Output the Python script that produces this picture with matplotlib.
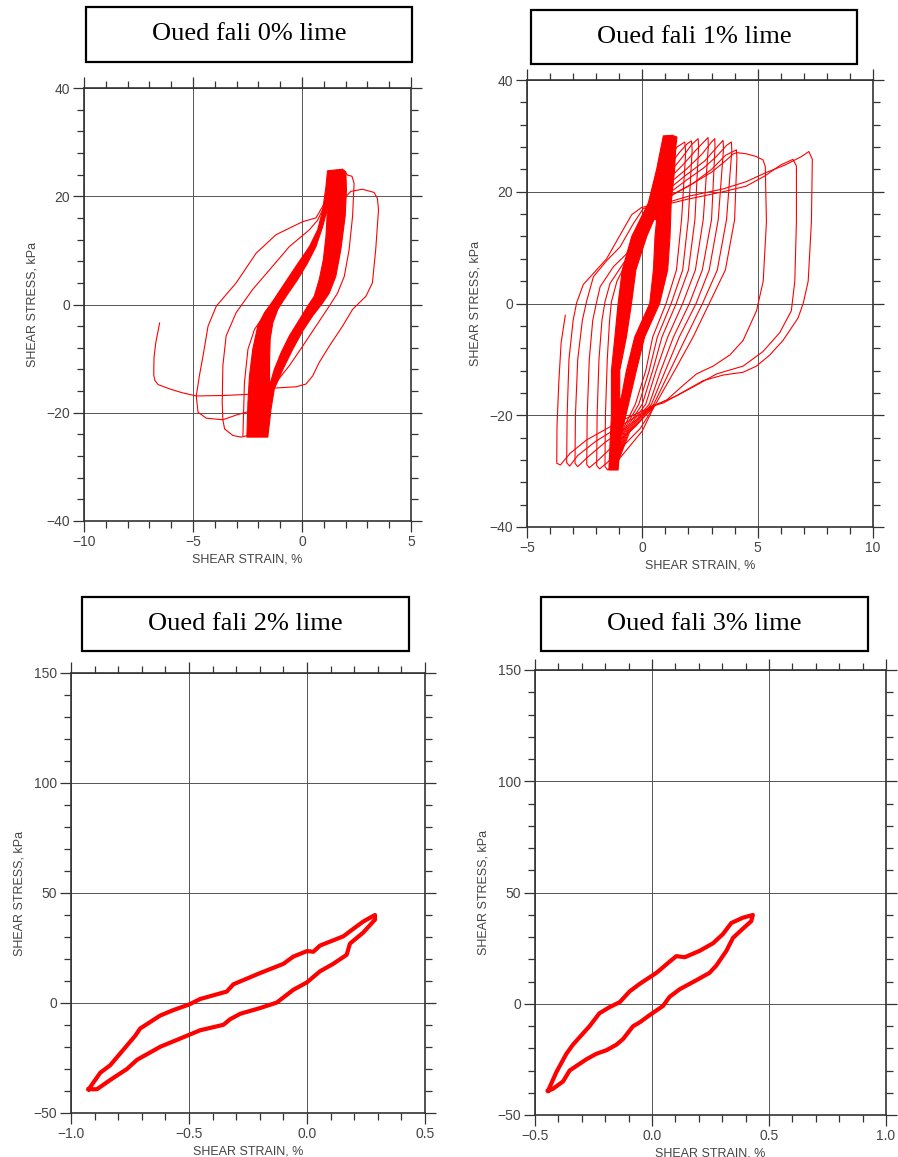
import numpy as np
import matplotlib
matplotlib.use('Agg')
import matplotlib.pyplot as plt
from matplotlib.path import Path
from matplotlib.patches import PathPatch, Rectangle
from matplotlib.ticker import MultipleLocator, FuncFormatter

plt.rcParams['font.family'] = ['Liberation Sans', 'DejaVu Sans']

RED = '#ff0000'
titles = ['Oued fali 0% lime', 'Oued fali 1% lime', 'Oued fali 2% lime', 'Oued fali 3% lime']

# ---------------- panel 1 (0% lime) ----------------
p1_band_out_x = [-2.53, -2.48, -2.41, -2.26, -2.03, -1.72, -1.34, -0.88, -0.27, 0.34, 0.72, 0.95, 1.10, 1.17,
                 1.86, 2.01, 2.04, 1.98, 1.78, 1.55, 1.25, 0.95, 0.49, 0.03, -0.43, -0.88, -1.27, -1.42, -1.49, -1.57]
p1_band_out_y = [-24.5, -18.1, -13.2, -8.3, -4.0, -1.5, 0.6, 3.4, 7.1, 10.7, 13.8, 17.5, 21.8, 24.7,
                 25.0, 24.5, 21.2, 16.3, 10.1, 5.2, 2.1, 0.3, -2.1, -4.9, -8.3, -12.0, -15.6, -19.3, -21.8, -24.5]
p1_band_in_x = [1.17, 1.10, 0.98, 0.79, 0.56, 0.26, -0.12, -0.58, -0.96, -1.27, -1.49,
                -1.49, -1.46, -1.34, -1.11, -0.73, -0.20, 0.26, 0.64, 0.95]
p1_band_in_y = [17.8, 12.6, 8.3, 4.6, 1.5, -0.3, -2.8, -5.8, -8.9, -12.0, -15.0,
                -10.7, -6.4, -3.4, -0.9, 1.5, 4.6, 7.7, 10.7, 14.4]

p1_b_x = [-2.3, -3.0, -3.63, -4.39, -4.77, -4.85, -4.70, -4.54, -4.31, -3.93, -3.02, -2.10, -1.19, 0.03, 0.64, 1.0]
p1_b_y = [-19.6, -20.4, -21.3, -21.0, -19.9, -16.9, -13.0, -9.5, -4.0, -0.3, 4.0, 9.5, 12.9, 15.3, 16.0, 18.5]
p1_c_x = [-2.48, -2.79, -3.17, -3.55, -3.63, -3.66, -3.63, -3.48, -3.02, -2.26, -1.49, -0.58, 0.34, 0.72, 1.0]
p1_c_y = [-24.2, -24.5, -24.2, -23.0, -21.3, -18.1, -11.3, -5.8, -1.5, 2.8, 6.4, 10.7, 13.8, 15.6, 18.0]
p1_tail_x = [-1.9, -2.5, -3.5, -4.85, -5.5, -6.07, -6.6, -6.75, -6.8, -6.79, -6.71, -6.53]
p1_tail_y = [-16.4, -16.6, -16.8, -16.9, -16.3, -15.6, -14.8, -14.0, -13.0, -9.9, -7.1, -3.4]
p1_d_x = [1.86, 2.24, 2.77, 3.31, 3.46, 3.51, 3.38, 3.23, 2.93, 2.62, 2.32, 1.86, 1.25, 0.79, 0.49, 0.18, -0.27,
          -1.49, -1.7]
p1_d_y = [19.3, 20.9, 21.3, 20.7, 19.6, 17.5, 10.1, 4.0, 1.5, 0.3, -0.9, -4.0, -7.7, -10.7, -13.2, -14.7, -15.2,
          -15.5, -16.0]
p1_e_x = [1.95, 2.09, 2.29, 2.39, 2.32, 2.16, 1.94, 1.63, 1.25, 0.64, 0.03, -0.58, -1.19, -1.49]
p1_e_y = [24.6, 23.9, 23.7, 22.4, 16.3, 10.1, 5.2, 2.1, -0.3, -4.0, -7.7, -11.3, -14.4, -15.6]
p1_f_x = [-2.71, -2.64, -2.48, -2.18, -1.65, -1.0]
p1_f_y = [-24.2, -14.4, -8.3, -4.6, -1.5, 2.5]

# ---------------- panel 2 (1% lime) ----------------
p2_band_out_x = [-1.45, -1.40, -1.34, -1.34, -1.19, -1.05, -0.87, -0.46, 0.26, 0.62, 0.91, 1.30, 1.50,
                 1.45, 1.40, 1.25, 1.20, 1.10, 0.75, 0.10, -0.26, -0.60, -0.95, -1.05]
p2_band_out_y = [-29.8, -25.0, -20.0, -12.0, -6.0, 0.0, 6.0, 12.0, 18.0, 24.0, 30.0, 30.1, 29.8,
                 28.0, 24.0, 18.0, 12.0, 6.0, 0.0, -6.0, -12.0, -18.0, -24.0, -29.8]
p2_band_in_x = [0.62, 0.55, 0.48, 0.32, -0.33, -0.69, -0.92, -0.98, -0.98, -0.69, -0.47, -0.28, 0.19, 0.50]
p2_band_in_y = [15.0, 12.0, 6.0, 0.0, -6.0, -12.0, -17.0, -17.0, -12.0, -6.0, 0.0, 6.0, 12.0, 15.0]

# small right excursions
p2_r1_x = [1.15, 1.50, 1.84, 1.88, 1.70, 1.48, 1.03, 0.45, 0.15, -0.30, -0.90, -1.15]
p2_r1_y = [25.5, 28.0, 28.9, 27.0, 15.0, 6.0, 0.0, -6.0, -12.0, -18.0, -23.0, -29.3]
p2_r2_x = [1.15, 1.60, 1.95, 2.13, 2.16, 1.99, 1.75, 1.25, 0.65, 0.30, -0.15, -0.85, -1.15]
p2_r2_y = [24.5, 27.0, 28.6, 29.1, 27.5, 15.0, 6.0, 0.0, -6.0, -12.0, -18.0, -23.0, -29.3]
p2_r3_x = [1.20, 1.70, 2.15, 2.42, 2.44, 2.28, 2.00, 1.47, 0.85, 0.45, 0.00, -0.80, -1.15]
p2_r3_y = [23.5, 26.0, 28.5, 29.5, 28.0, 15.0, 6.0, 0.0, -6.0, -12.0, -18.0, -23.0, -29.3]
p2_r4_x = [1.20, 1.80, 2.40, 2.85, 2.86, 2.64, 2.30, 1.75, 1.10, 0.60, 0.15, -0.75, -1.15]
p2_r4_y = [22.5, 25.0, 27.8, 29.7, 28.0, 15.0, 6.0, 0.0, -6.0, -12.0, -18.0, -23.0, -29.3]
p2_r5_x = [1.25, 1.90, 2.60, 3.00, 3.14, 3.15, 3.00, 2.60, 2.04, 1.35, 0.80, 0.30, -0.70, -1.15]
p2_r5_y = [21.8, 24.0, 26.8, 28.9, 29.5, 28.0, 15.0, 6.0, 0.0, -6.0, -12.0, -18.0, -23.0, -29.3]
p2_r6_x = [1.30, 1.90, 2.70, 3.30, 3.50, 3.52, 3.29, 2.90, 2.33, 1.60, 1.00, 0.40, -0.65, -1.15]
p2_r6_y = [21.0, 23.0, 25.5, 28.3, 29.2, 27.7, 15.0, 6.0, 0.0, -6.0, -12.0, -18.0, -23.0, -29.3]
p2_r7_x = [1.34, 1.92, 2.64, 3.21, 3.65, 3.86, 3.88, 3.65, 3.25, 2.61, 1.90, 1.20, 0.50, -0.60, -1.15]
p2_r7_y = [20.3, 22.1, 24.2, 26.3, 28.3, 28.9, 27.4, 15.0, 6.0, 0.0, -6.0, -12.0, -18.0, -23.0, -29.3]
p2_r8_x = [1.30, 2.20, 3.00, 3.60, 4.08, 4.10, 4.00, 3.60, 2.90, 2.20, 1.40, 0.55, -0.55, -1.15]
p2_r8_y = [19.5, 21.5, 24.0, 26.5, 27.5, 26.0, 15.0, 6.0, 0.0, -6.0, -12.0, -18.2, -23.0, -29.3]

# large right excursions
p2_r9_x = [0.90, 2.00, 3.00, 3.60, 3.95, 4.10, 4.50, 4.94, 5.23, 5.33, 5.38, 5.24, 4.95, 4.37, 3.80, 3.07,
           2.35, 1.78, 1.05, 0.55]
p2_r9_y = [18.5, 21.0, 23.5, 25.5, 26.8, 27.0, 26.8, 26.3, 25.7, 24.5, 14.6, 4.0, -1.3, -6.6, -9.2, -11.2,
           -12.6, -14.6, -17.3, -18.2]
p2_r10_x = [0.60, 2.00, 3.50, 4.50, 5.30, 6.00, 6.53, 6.68, 6.68, 6.61, 6.46, 5.96, 5.23, 4.37, 3.22, 2.35,
            1.50, 0.55]
p2_r10_y = [17.3, 18.7, 20.0, 21.0, 22.8, 24.8, 25.8, 24.6, 14.6, 4.0, -1.3, -5.2, -8.6, -11.2, -12.6, -14.6,
            -16.5, -18.2]
p2_r11_x = [0.60, 2.00, 3.50, 4.50, 5.40, 6.20, 6.90, 7.22, 7.37, 7.33, 7.19, 6.98, 6.75, 6.10, 5.53, 4.95,
            4.37, 3.51, 2.64, 1.78, 0.91, 0.33]
p2_r11_y = [17.5, 19.2, 20.5, 21.8, 23.5, 24.8, 26.3, 27.2, 25.8, 14.6, 4.0, 0.1, -2.6, -6.6, -9.2, -11.2,
            -12.3, -12.8, -13.8, -15.8, -17.8, -18.5]

# left excursions
p2_l1_x = [0.50, 0.00, -0.70, -1.20, -1.50, -1.62, -1.60, -1.52, -1.42, -1.34, -1.10, -0.60, 0.00, 0.45, 0.60]
p2_l1_y = [-18.5, -22.8, -26.3, -28.8, -29.8, -29.2, -20.0, -10.0, -3.0, 0.3, 4.0, 8.0, 11.5, 15.0, 17.0]
p2_l2_x = [0.55, -0.10, -0.90, -1.50, -1.85, -1.98, -1.96, -1.88, -1.75, -1.62, -1.40, -0.82, -0.24, 0.33, 0.55]
p2_l2_y = [-18.2, -22.4, -25.8, -28.4, -29.6, -29.0, -20.0, -10.0, -3.0, 0.3, 3.6, 7.2, 10.1, 14.9, 17.0]
p2_l3_x = [0.55, -0.30, -1.20, -1.90, -2.30, -2.41, -2.39, -2.30, -2.15, -1.98, -1.83, -1.25, -0.68, -0.24,
           0.19, 0.50]
p2_l3_y = [-18.2, -22.0, -25.2, -28.0, -29.4, -28.8, -20.0, -10.0, -3.0, 0.3, 3.0, 6.6, 8.9, 13.1, 16.1, 17.0]
p2_l4_x = [0.55, -0.50, -1.60, -2.40, -2.80, -2.92, -2.90, -2.80, -2.60, -2.41, -2.12, -1.54, -0.97, -0.39,
           0.04, 0.40]
p2_l4_y = [-18.2, -21.6, -24.8, -27.6, -29.2, -28.6, -20.0, -10.0, -3.0, 0.5, 4.8, 7.7, 10.1, 14.3, 17.0, 17.3]
p2_l5_x = [0.55, -0.70, -2.00, -2.80, -3.15, -3.28, -3.26, -3.18, -3.00, -2.85, -2.56, -2.12, -1.55, -0.82,
           -0.46, -0.03, 0.33]
p2_l5_y = [-18.2, -21.3, -24.6, -27.2, -29.1, -28.5, -20.0, -10.0, -3.0, 0.1, 3.4, 5.4, 8.0, 13.3, 15.9,
           17.2, 17.5]
p2_tail_x = [0.55, -0.98, -2.41, -3.13, -3.55, -3.71, -3.70, -3.62, -3.52, -3.34]
p2_tail_y = [-18.2, -21.1, -24.4, -26.8, -28.9, -28.6, -22.0, -14.0, -7.0, -2.1]

# ---------------- panel 3 (2% lime) ----------------
p3_up_x = [-0.925, -0.876, -0.834, -0.728, -0.707, -0.622, -0.566, -0.500, -0.453, -0.340, -0.312, -0.199,
           -0.100, -0.058, 0.000, 0.027, 0.055, 0.154, 0.196, 0.238, 0.288]
p3_up_y = [-39.2, -31.7, -28.3, -14.9, -11.6, -5.7, -3.2, -0.7, 1.8, 5.2, 8.5, 13.6, 17.8, 21.1, 23.6, 23.3,
           26.1, 30.3, 33.7, 37.0, 40.0]
p3_dn_x = [0.288, 0.238, 0.182, 0.168, 0.111, 0.055, 0.000, -0.058, -0.128, -0.199, -0.283, -0.326, -0.354,
           -0.453, -0.509, -0.622, -0.650, -0.720, -0.763, -0.834, -0.890, -0.925]
p3_dn_y = [37.9, 32.0, 27.0, 21.9, 17.8, 14.4, 9.4, 6.0, 0.2, -2.3, -4.9, -7.4, -9.9, -12.4, -14.9, -19.9,
           -21.6, -25.8, -30.0, -35.0, -39.2, -39.2]

# ---------------- panel 4 (3% lime) ----------------
p4_up_x = [-0.444, -0.409, -0.366, -0.338, -0.267, -0.225, -0.181, -0.138, -0.095, -0.053, 0.019, 0.075,
           0.104, 0.140, 0.204, 0.261, 0.303, 0.339, 0.389, 0.431]
p4_up_y = [-39.1, -30.8, -22.5, -18.4, -10.1, -4.3, -1.5, 0.7, 5.6, 8.9, 13.9, 18.9, 21.4, 20.9, 23.8, 27.2,
           31.3, 36.3, 38.7, 39.9]
p4_dn_x = [0.424, 0.389, 0.346, 0.318, 0.275, 0.246, 0.190, 0.118, 0.075, 0.047, -0.010, -0.053, -0.081,
           -0.124, -0.152, -0.195, -0.238, -0.281, -0.352, -0.380, -0.423, -0.444]
p4_dn_y = [37.1, 33.8, 29.6, 23.8, 17.2, 13.9, 10.6, 6.5, 3.1, -1.0, -5.1, -8.4, -10.1, -15.9, -18.4, -20.9,
           -22.5, -25.0, -30.0, -34.9, -38.2, -39.1]


def ring(ax, ox, oy, ix, iy):
    outer = np.column_stack([ox, oy])
    hole = np.column_stack([ix, iy])

    def area(p):
        return 0.5 * np.sum(p[:, 0] * np.roll(p[:, 1], -1) - np.roll(p[:, 0], -1) * p[:, 1])

    if np.sign(area(outer)) == np.sign(area(hole)):
        hole = hole[::-1]
    verts = np.concatenate([outer, outer[:1], hole, hole[:1]])
    codes = ([Path.MOVETO] + [Path.LINETO] * (len(outer) - 1) + [Path.CLOSEPOLY] +
             [Path.MOVETO] + [Path.LINETO] * (len(hole) - 1) + [Path.CLOSEPOLY])
    ax.add_patch(PathPatch(Path(verts, codes), fc=RED, ec=RED, lw=0.8, zorder=3))


def minus_fmt(fmt):
    # plotter style labels with a long minus sign
    return FuncFormatter(lambda v, pos: (fmt % v).replace('-', '\u2212'))


def style(ax, xlim, ylim, xmaj, xmin, ymaj, ymin, xfmt):
    ax.set_xlim(xlim)
    ax.set_ylim(ylim)
    ax.xaxis.set_major_locator(MultipleLocator(xmaj))
    ax.xaxis.set_minor_locator(MultipleLocator(xmin))
    ax.yaxis.set_major_locator(MultipleLocator(ymaj))
    ax.yaxis.set_minor_locator(MultipleLocator(ymin))
    ax.xaxis.set_major_formatter(minus_fmt(xfmt))
    ax.yaxis.set_major_formatter(minus_fmt('%d'))
    ax.grid(which='major', color='#555555', lw=0.7, zorder=0)
    ax.set_axisbelow(True)
    ax.tick_params(which='both', direction='out', top=True, right=True, colors='#333333',
                   labelcolor='#444444', labelsize=10, pad=2)
    ax.tick_params(which='major', length=8, width=0.9)
    ax.tick_params(which='minor', length=5, width=0.9)
    for s in ax.spines.values():
        s.set_linewidth(1.2)
        s.set_color('#333333')
    ax.set_xlabel('SHEAR STRAIN, %', fontsize=9, color='#444444', labelpad=3)
    ax.set_ylabel('SHEAR STRESS, kPa', fontsize=9, color='#444444', labelpad=6)


fig = plt.figure(figsize=(8.98, 11.57), dpi=100)
W, H = 898.0, 1157.0


def add_axes(x0, x1, y0, y1):
    return fig.add_axes([x0 / W, 1 - y1 / H, (x1 - x0) / W, (y1 - y0) / H])


def title_box(x0, x1, y0, y1, text):
    fig.add_artist(Rectangle((x0 / W, 1 - y1 / H), (x1 - x0) / W, (y1 - y0) / H, transform=fig.transFigure,
                             fill=False, ec='black', lw=1.6))
    fig.text((x0 + x1) / 2 / W, 1 - (y0 + y1) / 2 / H, text, ha='center', va='center',
             family='Liberation Serif', fontsize=19)


# panel 1
ax1 = add_axes(84, 411, 88, 521)
style(ax1, (-10, 5), (-40, 40), 5, 1, 20, 4, '%d')
ring(ax1, p1_band_out_x, p1_band_out_y, p1_band_in_x, p1_band_in_y)
for xs, ys in [(p1_b_x, p1_b_y), (p1_c_x, p1_c_y), (p1_tail_x, p1_tail_y), (p1_d_x, p1_d_y),
               (p1_e_x, p1_e_y), (p1_f_x, p1_f_y)]:
    ax1.plot(xs, ys, color=RED, lw=0.8, zorder=4)
title_box(86, 412, 7, 62, titles[0])

# panel 2
ax2 = add_axes(527, 873, 80, 527)
style(ax2, (-5, 10), (-40, 40), 5, 1, 20, 4, '%d')
ring(ax2, p2_band_out_x, p2_band_out_y, p2_band_in_x, p2_band_in_y)
p2_lines = [(p2_r1_x, p2_r1_y), (p2_r2_x, p2_r2_y), (p2_r3_x, p2_r3_y), (p2_r4_x, p2_r4_y),
            (p2_r5_x, p2_r5_y), (p2_r6_x, p2_r6_y), (p2_r7_x, p2_r7_y), (p2_r8_x, p2_r8_y),
            (p2_r9_x, p2_r9_y), (p2_r10_x, p2_r10_y), (p2_r11_x, p2_r11_y),
            (p2_l1_x, p2_l1_y), (p2_l2_x, p2_l2_y), (p2_l3_x, p2_l3_y), (p2_l4_x, p2_l4_y),
            (p2_l5_x, p2_l5_y), (p2_tail_x, p2_tail_y)]
for xs, ys in p2_lines:
    ax2.plot(xs, ys, color=RED, lw=0.8, zorder=4)
title_box(531, 857, 10, 64, titles[1])

# panel 3
ax3 = add_axes(71, 425, 673, 1113)
style(ax3, (-1.0, 0.5), (-50, 150), 0.5, 0.1, 50, 10, '%.1f')
ax3.plot(p3_up_x + p3_dn_x, p3_up_y + p3_dn_y, color=RED, lw=3.0, zorder=4)
title_box(82, 409, 597, 651, titles[2])

# panel 4
ax4 = add_axes(535, 886, 670, 1115)
style(ax4, (-0.5, 1.0), (-50, 150), 0.5, 0.1, 50, 10, '%.1f')
ax4.plot(p4_up_x + p4_dn_x, p4_up_y + p4_dn_y, color=RED, lw=3.0, zorder=4)
title_box(541, 868, 597, 651, titles[3])

fig.savefig('out.png', dpi=100)
